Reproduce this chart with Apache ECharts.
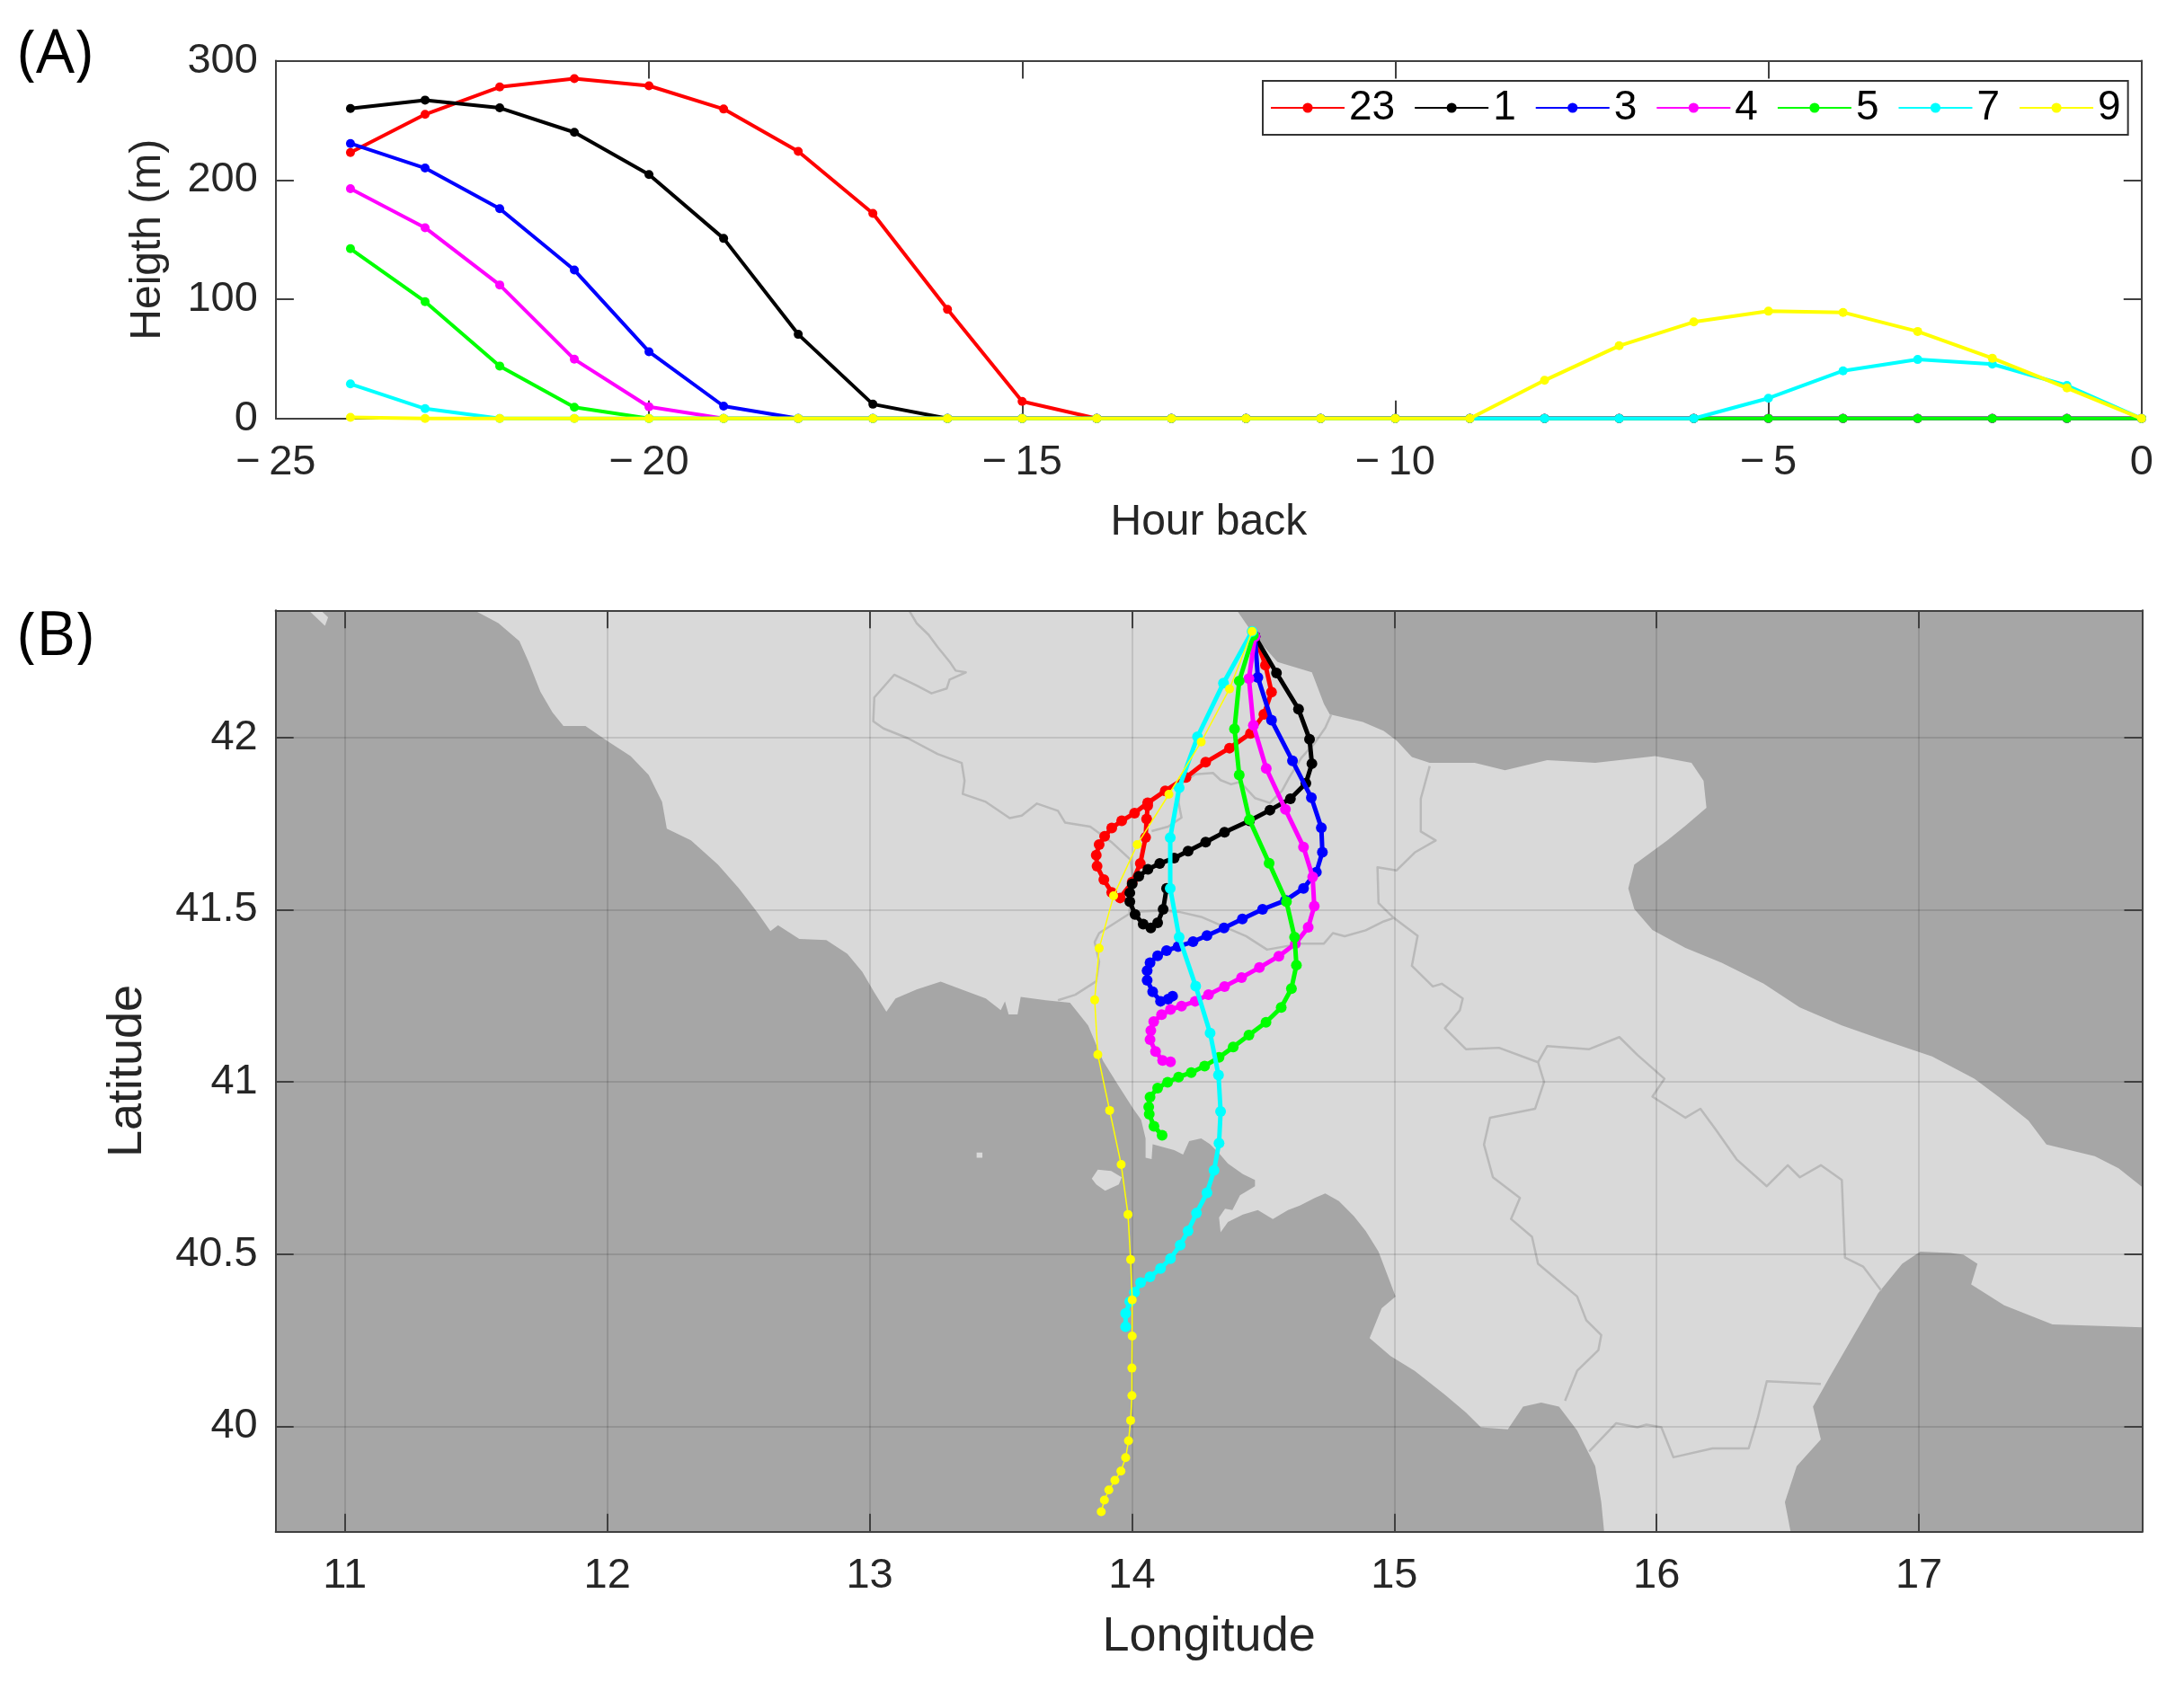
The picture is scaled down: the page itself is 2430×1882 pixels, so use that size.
<!DOCTYPE html>
<html>
<head>
<meta charset="utf-8">
<style>html,body{margin:0;padding:0;background:#fff}#c{width:2430px;height:1882px}</style>
<script src="https://cdn.jsdelivr.net/npm/echarts@6/dist/echarts.min.js"></script>
</head>
<body>
<div id="c"></div>
<script>
const seriesNames = ['23','1','3','4','5','7','9'];
const seriesColors = ['#ff0000','#000000','#0000ff','#ff00ff','#00ff00','#00ffff','#ffff00'];
const hours = [-24,-23,-22,-21,-20,-19,-18,-17,-16,-15,-14,-13,-12,-11,-10,-9,-8,-7,-6,-5,-4,-3,-2,-1,0];
const height23 = [223,255,278,285,279,259.5,224,172,91.5,14.3,0,0,0,0,0,0,0,0,0,0,0,0,0,0,0];
const height1  = [260,267,260.5,240,204.6,151,70.6,12,0,0,0,0,0,0,0,0,0,0,0,0,0,0,0,0,0];
const height3  = [230.6,210,176,124.5,56,10.4,0,0,0,0,0,0,0,0,0,0,0,0,0,0,0,0,0,0,0];
const height4  = [192.7,160,112,49.7,9.8,0,0,0,0,0,0,0,0,0,0,0,0,0,0,0,0,0,0,0,0];
const height5  = [142.4,98,44,9.5,0,0,0,0,0,0,0,0,0,0,0,0,0,0,0,0,0,0,0,0,0];
const height7  = [29,8.3,0,0,0,0,0,0,0,0,0,0,0,0,0,0,0,0,0,17,40,49.5,45.6,27.7,0];
const height9  = [1,0,0,0,0,0,0,0,0,0,0,0,0,0,0,0,32,61,81,90,89,73,50.6,25.6,0];
const heights = [height23,height1,height3,height4,height5,height7,height9];

const track23 = [[14.469,42.293],[14.509,42.210],[14.532,42.132],[14.503,42.067],[14.452,42.012],[14.372,41.969],[14.281,41.928],[14.206,41.884],[14.127,41.845],[14.060,41.810],[14.010,41.780],[13.961,41.758],[13.923,41.737],[13.896,41.713],[13.875,41.689],[13.864,41.658],[13.867,41.626],[13.893,41.587],[13.923,41.550],[13.955,41.534],[14.001,41.580],[14.032,41.634],[14.052,41.710],[14.056,41.763],[14.060,41.802]];
const track1 = [[14.469,42.293],[14.551,42.187],[14.635,42.082],[14.677,41.995],[14.686,41.924],[14.663,41.867],[14.604,41.822],[14.526,41.789],[14.448,41.758],[14.353,41.725],[14.281,41.696],[14.214,41.670],[14.161,41.650],[14.106,41.634],[14.061,41.617],[14.026,41.597],[14.001,41.575],[13.992,41.549],[13.992,41.523],[14.012,41.486],[14.043,41.458],[14.072,41.447],[14.098,41.462],[14.119,41.501],[14.132,41.562]];
const track3 = [[14.469,42.293],[14.480,42.174],[14.532,42.050],[14.612,41.932],[14.684,41.825],[14.722,41.738],[14.726,41.667],[14.703,41.609],[14.654,41.562],[14.585,41.527],[14.498,41.501],[14.421,41.473],[14.351,41.447],[14.286,41.425],[14.233,41.407],[14.176,41.393],[14.132,41.381],[14.098,41.366],[14.069,41.346],[14.058,41.323],[14.058,41.295],[14.079,41.262],[14.109,41.234],[14.138,41.240],[14.155,41.249]];
const track4 = [[14.469,42.293],[14.446,42.171],[14.463,42.035],[14.512,41.910],[14.585,41.791],[14.654,41.682],[14.689,41.595],[14.695,41.510],[14.672,41.449],[14.623,41.401],[14.560,41.365],[14.486,41.332],[14.418,41.303],[14.353,41.277],[14.292,41.253],[14.241,41.234],[14.189,41.220],[14.147,41.210],[14.113,41.195],[14.083,41.175],[14.072,41.149],[14.069,41.123],[14.090,41.088],[14.117,41.062],[14.147,41.058]];
const track5 = [[14.463,42.297],[14.409,42.164],[14.391,42.025],[14.409,41.891],[14.448,41.761],[14.523,41.635],[14.589,41.523],[14.620,41.420],[14.627,41.339],[14.608,41.271],[14.569,41.216],[14.511,41.173],[14.446,41.136],[14.386,41.101],[14.332,41.071],[14.277,41.046],[14.226,41.027],[14.178,41.014],[14.136,40.999],[14.098,40.982],[14.069,40.956],[14.064,40.927],[14.066,40.906],[14.084,40.871],[14.115,40.845]];
const track7 = [[14.458,42.308],[14.349,42.158],[14.250,42.002],[14.180,41.854],[14.146,41.709],[14.146,41.562],[14.180,41.420],[14.243,41.278],[14.298,41.142],[14.330,41.020],[14.338,40.914],[14.332,40.822],[14.313,40.743],[14.286,40.678],[14.246,40.619],[14.214,40.567],[14.184,40.526],[14.147,40.487],[14.109,40.458],[14.069,40.434],[14.033,40.417],[14.010,40.389],[13.992,40.362],[13.976,40.328],[13.976,40.289]];
const track9 = [[14.458,42.308],[14.372,42.141],[14.264,41.987],[14.141,41.835],[14.020,41.689],[13.930,41.540],[13.875,41.388],[13.858,41.238],[13.870,41.079],[13.915,40.917],[13.959,40.760],[13.985,40.615],[13.995,40.484],[14.001,40.367],[14.001,40.262],[14.000,40.169],[14.000,40.089],[13.995,40.017],[13.987,39.958],[13.976,39.909],[13.958,39.870],[13.935,39.843],[13.912,39.815],[13.895,39.786],[13.883,39.752]];
const tracks = [track23,track1,track3,track4,track5,track7,track9];

const hourTicks = [-25,-20,-15,-10,-5,0];
const heightTicks = [0,100,200,300];
const lonTicks = [11,12,13,14,15,16,17];
const latTicks = [40,40.5,41,41.5,42];

const landMain = [[11.493,42.369],[11.585,42.332],[11.665,42.280],[11.700,42.220],[11.745,42.133],[11.791,42.073],[11.833,42.033],[11.917,42.033],[11.998,41.991],[12.089,41.946],[12.158,41.891],[12.209,41.813],[12.227,41.735],[12.319,41.701],[12.422,41.631],[12.502,41.562],[12.571,41.493],[12.622,41.438],[12.651,41.455],[12.732,41.415],[12.835,41.412],[12.915,41.372],[12.972,41.320],[13.018,41.260],[13.064,41.204],[13.099,41.242],[13.179,41.268],[13.271,41.291],[13.351,41.268],[13.443,41.242],[13.500,41.208],[13.516,41.234],[13.530,41.196],[13.564,41.196],[13.576,41.247],[13.672,41.237],[13.764,41.230],[13.833,41.164],[13.890,41.061],[13.947,40.991],[14.005,40.922],[14.035,40.890],[14.052,40.836],[14.052,40.780],[14.075,40.776],[14.079,40.819],[14.161,40.802],[14.195,40.789],[14.218,40.828],[14.264,40.836],[14.298,40.819],[14.332,40.793],[14.366,40.763],[14.423,40.732],[14.469,40.715],[14.469,40.697],[14.412,40.671],[14.383,40.628],[14.355,40.632],[14.332,40.606],[14.338,40.563],[14.366,40.593],[14.423,40.615],[14.480,40.628],[14.537,40.602],[14.595,40.628],[14.640,40.641],[14.697,40.663],[14.737,40.676],[14.789,40.654],[14.846,40.610],[14.891,40.567],[14.940,40.507],[15.005,40.377],[14.952,40.343],[14.906,40.256],[14.986,40.204],[15.078,40.161],[15.193,40.092],[15.273,40.040],[15.330,39.997],[15.433,39.991],[15.491,40.057],[15.560,40.069],[15.628,40.057],[15.697,39.988],[15.766,39.884],[15.789,39.780],[15.800,39.693],[16.511,39.693],[16.489,39.780],[16.534,39.884],[16.626,39.962],[16.596,40.057],[16.660,40.144],[16.752,40.265],[16.844,40.386],[16.936,40.472],[17.005,40.507],[17.120,40.503],[17.170,40.498],[17.223,40.472],[17.199,40.412],[17.325,40.351],[17.509,40.296],[17.860,40.287],[17.860,40.689],[17.761,40.749],[17.670,40.784],[17.486,40.818],[17.417,40.888],[17.303,40.957],[17.211,41.009],[17.050,41.074],[16.867,41.121],[16.706,41.164],[16.546,41.216],[16.408,41.285],[16.248,41.346],[16.110,41.389],[15.984,41.441],[15.915,41.502],[15.892,41.562],[15.915,41.631],[16.041,41.701],[16.110,41.744],[16.190,41.796],[16.179,41.874],[16.133,41.926],[15.995,41.946],[15.766,41.926],[15.583,41.934],[15.422,41.905],[15.307,41.926],[15.135,41.926],[15.067,41.943],[15.009,41.991],[14.960,42.019],[14.880,42.045],[14.754,42.067],[14.732,42.097],[14.686,42.189],[14.555,42.219],[14.469,42.293],[14.400,42.369]];
const landNorthwest = [[10.862,42.369],[10.924,42.324],[10.936,42.349],[10.908,42.369]];
const landIschia = [[13.847,40.719],[13.870,40.745],[13.921,40.741],[13.961,40.723],[13.950,40.702],[13.898,40.684],[13.864,40.702]];
const landPonza = [[13.408,40.795],[13.430,40.795],[13.430,40.780],[13.408,40.780]];
const landShapes = [landMain,landNorthwest,landIschia,landPonza];

const border1 = [[13.151,42.368],[13.179,42.332],[13.225,42.298],[13.259,42.263],[13.305,42.220],[13.328,42.194],[13.367,42.189],[13.305,42.168],[13.294,42.142],[13.236,42.128],[13.179,42.151],[13.094,42.182],[13.018,42.116],[13.014,42.047],[13.053,42.026],[13.145,41.998],[13.259,41.952],[13.351,41.926],[13.362,41.874],[13.355,41.836],[13.443,41.813],[13.534,41.766],[13.580,41.773],[13.638,41.808],[13.718,41.787],[13.745,41.753],[13.841,41.741],[13.921,41.697],[13.995,41.645],[14.001,41.602],[13.990,41.488],[13.955,41.471],[13.875,41.432],[13.858,41.406],[13.875,41.349],[13.864,41.292],[13.784,41.253],[13.718,41.237]];
const border2 = [[13.995,41.493],[14.115,41.497],[14.184,41.493],[14.264,41.479],[14.355,41.449],[14.435,41.423],[14.515,41.384],[14.640,41.401],[14.731,41.401],[14.766,41.432],[14.811,41.423],[14.891,41.440],[14.960,41.466],[14.998,41.476]];
const border3 = [[14.760,42.067],[14.737,42.028],[14.697,41.984],[14.646,41.941],[14.600,41.884],[14.572,41.845],[14.526,41.810],[14.469,41.824],[14.412,41.871],[14.378,41.864],[14.338,41.876],[14.309,41.897],[14.241,41.893],[14.184,41.863],[14.178,41.810],[14.189,41.767],[14.138,41.741],[14.075,41.728]];
const border4 = [[15.135,41.917],[15.101,41.822],[15.101,41.727],[15.158,41.701],[15.078,41.666],[15.009,41.614],[14.936,41.623],[14.940,41.519],[14.998,41.476],[15.089,41.424],[15.067,41.337],[15.147,41.277],[15.181,41.285],[15.261,41.242],[15.250,41.208],[15.193,41.156],[15.273,41.095],[15.399,41.099],[15.548,41.057],[15.571,41.000],[15.537,40.922],[15.365,40.896],[15.342,40.818],[15.376,40.723],[15.479,40.663],[15.445,40.602],[15.525,40.550],[15.548,40.472],[15.697,40.377],[15.732,40.308],[15.789,40.265],[15.778,40.221],[15.697,40.161],[15.651,40.074]];
const border5 = [[15.548,41.057],[15.583,41.104],[15.743,41.095],[15.858,41.130],[15.927,41.078],[16.030,41.009],[15.984,40.957],[16.110,40.896],[16.167,40.922],[16.225,40.862],[16.305,40.775],[16.420,40.697],[16.500,40.758],[16.546,40.723],[16.626,40.758],[16.706,40.715],[16.718,40.490],[16.787,40.464],[16.856,40.394]];
const border6 = [[16.626,40.123],[16.420,40.131],[16.385,40.022],[16.351,39.936],[16.213,39.936],[16.064,39.910],[16.018,39.997],[15.961,40.005],[15.927,39.997],[15.846,40.009],[15.743,39.927]];
const borderLines = [border1,border2,border3,border4,border5,border6];

const inkColor = '#262626';
const frameColor = '#404040';
const fontName = '"Liberation Sans", Arial, sans-serif';
const tickFont = 47;

function makeX(grid, min, max, ticks, opts) {
  return Object.assign({
    type:'value', gridIndex:grid, min, max, z:3, position:'bottom',
    axisLine:{show:true,onZero:false,lineStyle:{color:frameColor,width:2}},
    axisTick:{show:true,inside:true,length:20,customValues:ticks,lineStyle:{color:frameColor,width:2}},
    axisLabel:{show:true,customValues:ticks,margin:26,color:inkColor,fontSize:tickFont,fontFamily:fontName,
      formatter:v=>String(v).replace('-','\u2212\u2009')},
    splitLine:{show:false},
    nameLocation:'middle', nameTextStyle:{color:inkColor,fontFamily:fontName}
  }, opts||{});
}
function makeY(grid, min, max, ticks, opts) {
  return Object.assign({
    type:'value', gridIndex:grid, min, max, z:3, position:'left',
    axisLine:{show:true,onZero:false,lineStyle:{color:frameColor,width:2}},
    axisTick:{show:true,inside:true,length:20,customValues:ticks,lineStyle:{color:frameColor,width:2}},
    axisLabel:{show:true,customValues:ticks,margin:20,color:inkColor,fontSize:tickFont,fontFamily:fontName},
    splitLine:{show:false},
    nameLocation:'middle', nameTextStyle:{color:inkColor,fontFamily:fontName}
  }, opts||{});
}
const gridStyle = {show:true,lineStyle:{color:'rgba(0,0,0,0.15)',width:1.5}};
const lonMin=10.736, lonMax=17.851, latMin=39.694, latMax=42.369;

const chart = echarts.init(document.getElementById('c'));
const series = [];
series.push({
  type:'custom', name:'land', xAxisIndex:2, yAxisIndex:2, z:1, silent:true, clip:true,
  data:landShapes.map((s,i)=>[i]),
  renderItem:(p,api)=>({type:'polygon',shape:{points:landShapes[api.value(0)].map(c=>api.coord(c))},style:{fill:'#d9d9d9'}})
});
series.push({
  type:'custom', name:'borders', xAxisIndex:2, yAxisIndex:2, z:2, silent:true, clip:true,
  data:borderLines.map((s,i)=>[i]),
  renderItem:(p,api)=>({type:'polyline',shape:{points:borderLines[api.value(0)].map(c=>api.coord(c))},style:{fill:null,stroke:'#b9b9b9',lineWidth:2.5,lineJoin:'round'}})
});
seriesNames.forEach((n,i)=>{
  series.push({
    type:'line', name:n, xAxisIndex:0, yAxisIndex:0, z:4+i, symbol:'circle', symbolSize:10, showAllSymbol:true, clip:false,
    lineStyle:{color:seriesColors[i],width:4}, itemStyle:{color:seriesColors[i]},
    data:hours.map((h,k)=>[h,heights[i][k]])
  });
});
seriesNames.forEach((n,i)=>{
  series.push({
    type:'line', name:n, xAxisIndex:2, yAxisIndex:2, z:14+i, symbol:'circle', symbolSize:i===6?10:12, showAllSymbol:true,
    lineStyle:{color:seriesColors[i],width:i===6?1.5:5}, itemStyle:{color:seriesColors[i]},
    data:tracks[i]
  });
});

chart.setOption({
  animation:false,
  backgroundColor:'#ffffff',
  textStyle:{fontFamily:fontName},
  grid:[
    {left:306.9,top:67.6,width:2075.9,height:398.2,show:false,outerBoundsMode:'none',containLabel:false},
    {left:306.7,top:679.3,width:2076.8,height:1025.4,show:true,backgroundColor:'#a6a6a6',borderWidth:0,outerBoundsMode:'none',containLabel:false}
  ],
  xAxis:[
    makeX(0,-25,0,hourTicks,{name:'Hour back',nameGap:92,nameTextStyle:{color:inkColor,fontFamily:fontName,fontSize:48}}),
    makeX(0,-25,0,hourTicks,{position:'top',axisLabel:{show:false}}),
    makeX(1,lonMin,lonMax,lonTicks,{name:'Longitude',nameGap:90,splitLine:gridStyle,nameTextStyle:{color:inkColor,fontFamily:fontName,fontSize:54}}),
    makeX(1,lonMin,lonMax,lonTicks,{position:'top',axisLabel:{show:false}})
  ],
  yAxis:[
    makeY(0,0,300,heightTicks,{name:'Heigth (m)',nameGap:118,nameTextStyle:{color:inkColor,fontFamily:fontName,fontSize:48}}),
    makeY(0,0,300,heightTicks,{position:'right',axisLabel:{show:false}}),
    makeY(1,latMin,latMax,latTicks,{name:'Latitude',nameGap:138,splitLine:gridStyle,nameTextStyle:{color:inkColor,fontFamily:fontName,fontSize:54}}),
    makeY(1,latMin,latMax,latTicks,{position:'right',axisLabel:{show:false}})
  ],
  legend:{
    show:true, data:seriesNames, orient:'horizontal', left:1405, top:90,
    itemWidth:82, itemHeight:14, itemGap:21, padding:[7,8,7,8],
    borderColor:'#333333', borderWidth:2, backgroundColor:'#ffffff', z:30,
    selectedMode:false,
    textStyle:{color:'#000000',fontSize:46,fontFamily:fontName}
  },
  graphic:[
    {type:'text',left:20,top:28,z:40,style:{text:'(A)',fontSize:68,fontFamily:'"Open Sans"',fill:'#000'}},
    {type:'text',left:20,top:676,z:40,style:{text:'(B)',fontSize:68,fontFamily:'"Open Sans"',fill:'#000'}}
  ],
  series
});
</script>
</body>
</html>
